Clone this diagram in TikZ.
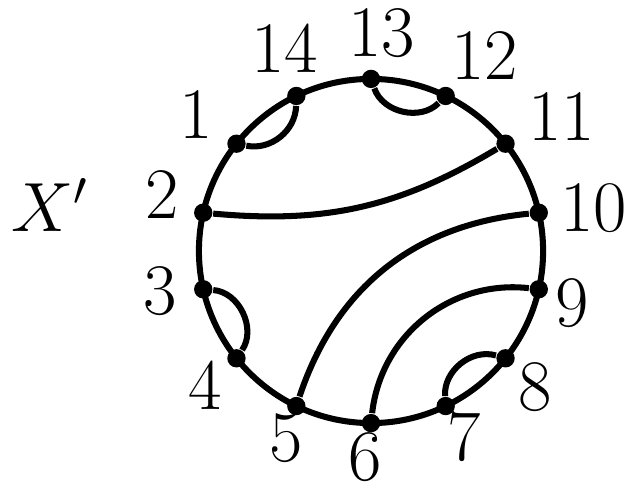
\documentclass[tikz,border=0pt]{standalone}
\usepackage{tikz}

\begin{document}
\begin{tikzpicture}[
    font=\fontsize{18}{22}\selectfont,
    pt/.style={circle, fill, inner sep=0pt, minimum size=1.6mm},
    num/.style={inner sep=0pt},
    chord/.style={line width=1.5pt},
  ]
  \useasboundingbox (-3.234,-2.067) rectangle (2.266,2.188);

  % boundary circle
  \draw[chord] (0,0) circle (1.5);

  % marked points, 13 at the top, numbered clockwise
  \foreach \k in {1,...,14} {
    \pgfmathsetmacro{\ang}{90-(13-\k)*360/14}
    \node[pt] (p\k) at (\ang:1.5) {};
  }

  % their numbers, just outside the circle
  \foreach \k/\x/\y in {1/-1.52/1.19, 2/-1.82/0.49, 3/-1.84/-0.35,
      4/-1.45/-1.17, 5/-0.74/-1.63, 6/-0.05/-1.80, 7/0.81/-1.62,
      8/1.43/-1.19, 9/1.75/-0.45, 10/1.94/0.37, 11/1.66/1.17,
      12/0.99/1.70, 13/0.09/1.90, 14/-0.75/1.77}
    \node[num] (l\k) at (\x,\y) {\k};

  \node[num] (X) at (-2.80,0.40) {$X'$};

  % pairings
  \draw[chord] (p1)  to[bend right=50] (p14);
  \draw[chord] (p13) to[bend right=58] (p12);
  \draw[chord] (p2)  to[bend right=18] (p11);
  \draw[chord] (p3)  to[bend left=60]  (p4);
  \draw[chord] (p5)  to[bend left=33]  (p10);
  \draw[chord] (p6)  to[bend left=45]  (p9);
  \draw[chord] (p7)  to[bend left=55]  (p8);
\end{tikzpicture}
\end{document}
